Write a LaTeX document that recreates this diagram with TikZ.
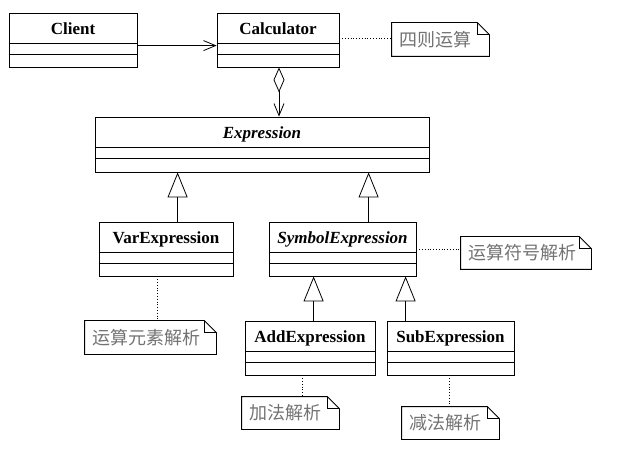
\documentclass[tikz,border=0pt]{standalone}
\usepackage{fontspec}
\setmainfont{Liberation Serif}
\newfontfamily\cjk{Noto Sans CJK SC}
\usetikzlibrary{arrows.meta,calc,fit}
\newcommand\umlclass[6]{%
  \node[frame, fit={(#2,#3) (#4,#5)}] (#1) {};
  \draw ($(#1.north west)+(0,31)$) -- ($(#1.north east)+(0,31)$);
  \draw ($(#1.north west)+(0,42)$) -- ($(#1.north east)+(0,42)$);
  \node[ctitle, anchor=base] (#1-t) at ($(#1.north)+(0,21.5)$) {#6};
}
\newcommand\umlnote[6]{%
  \node[inner sep=0pt, fit={(#2,#3) (#4,#5)}] (#1) {};
  \draw[fill=white] (#1.north west) -- ($(#1.north east)+(-12,0)$) -- ($(#1.north east)+(0,12)$) -- (#1.south east) -- (#1.south west) -- cycle;
  \draw ($(#1.north east)+(-12,0)$) |- ($(#1.north east)+(0,12)$);
  \node[ntext, anchor=west] (#1-t) at ($(#1.west)+(7,0)$) {#6};
}
\begin{document}
\begin{tikzpicture}[x=1pt,y=-1pt, line width=0.8pt,
  frame/.style={draw, inner sep=0pt, fill=white},
  ctitle/.style={font=\fontsize{17}{20}\selectfont\bfseries, inner sep=0pt},
  ntext/.style={font=\cjk\fontsize{18}{20}\selectfont, text=black!55, inner sep=0pt},
  assoc/.style={-{Straight Barb[length=12pt,width=10pt]}},
  agg/.style={{Diamond[open,length=25pt,width=11pt]}-{Straight Barb[length=12pt,width=10pt]}},
  gen/.style={-{Triangle[open,length=25pt,width=20pt]}},
  dots/.style={dotted, line width=0.8pt}]
\useasboundingbox (0,0) rectangle (619,449);

\umlclass{client}{9}{13}{137}{67}{Client}
\umlclass{calc}{217}{13}{339}{67}{Calculator}
\umlclass{expr}{95}{117}{429}{172}{\itshape Expression}
\umlclass{var}{99}{222}{233}{276}{VarExpression}
\umlclass{sym}{269}{222}{416}{276}{\itshape SymbolExpression}
\umlclass{add}{245}{321}{375}{375}{AddExpression}
\umlclass{sub}{387}{321}{514}{375}{SubExpression}

\umlnote{n1}{392}{23}{489}{56}{四则运算}
\umlnote{n2}{461}{237}{591}{269}{运算符号解析}
\umlnote{n3}{85}{321}{216}{354}{运算元素解析}
\umlnote{n4}{242}{397}{339}{429}{加法解析}
\umlnote{n5}{402}{407}{499}{439}{减法解析}

% association
\path (client.north east) ++(0,33) coordinate (ca);
\draw[assoc] (ca) -- (ca -| calc.west);
% aggregation
\path (calc.south) ++(1,0) coordinate (ag);
\draw[agg] (ag) -- (ag |- expr.north);
% generalizations
\path (var.north west) ++(79,0) coordinate (g1);
\draw[gen] (g1) -- (g1 |- expr.south);
\path (sym.north west) ++(100,0) coordinate (g2);
\draw[gen] (g2) -- (g2 |- expr.south);
\path (add.north west) ++(69,0) coordinate (g3);
\draw[gen] (g3) -- (g3 |- sym.south);
\path (sub.north west) ++(19,0) coordinate (g4);
\draw[gen] (g4) -- (g4 |- sym.south);
% note links
\path (calc.north east) ++(0,26) coordinate (d1);
\draw[dots] (d1) -- (d1 -| n1.west);
\path (sym.north east) ++(0,28) coordinate (d2);
\draw[dots] (d2) -- (d2 -| n2.west);
\path (var.south west) ++(59,0) coordinate (d3);
\draw[dots] (d3) -- (d3 |- n3.north);
\path (add.south west) ++(58,0) coordinate (d4);
\draw[dots] (d4) -- (d4 |- n4.north);
\path (sub.south west) ++(63,0) coordinate (d5);
\draw[dots] (d5) -- (d5 |- n5.north);
\end{tikzpicture}
\end{document}
